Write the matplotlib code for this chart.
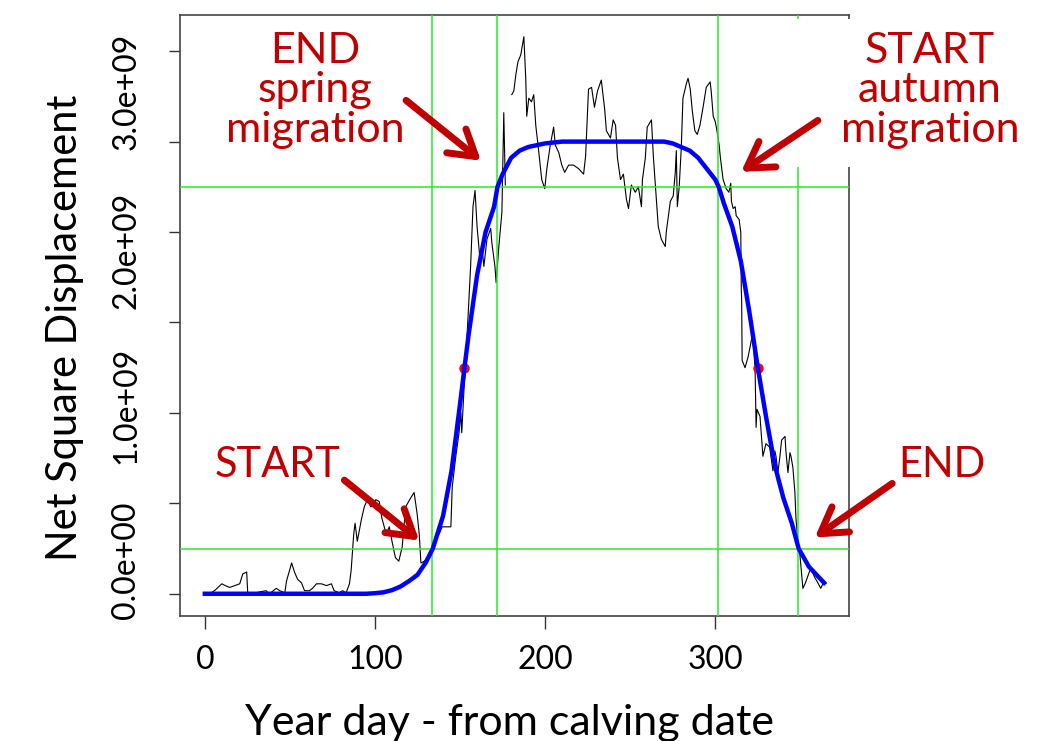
import matplotlib.pyplot as plt
import numpy as np
from matplotlib.patches import Rectangle

plt.rcParams["font.family"] = ["Lato", "DejaVu Sans"]

# observed NSD (units of 1e9), nan = gap in the record
obs_day = [0, 3, 6, 10, 12, 14.6, 17.6, 20.5, 22.3, 24.6, 25.2, 28, 32, 36, 38, 42, 44, 47,
           48, 49.8, 51, 52.7, 54.5, 56.8, 58.6, 61.5, 63.3, 65.6, 68.5, 71.5, 74.4, 76, 79,
           81, 83, 85, 86, 86.9, 87.5, 88.3, 89.6, 92, 93.7, 95.5, 97.6, 100.5, 102.5, 104,
           106.6, 108.4, 110, 112, 114, 116, 118, 121, 123, 124.8, 126, 127, 129, 130.6,
           133.6, 135.8, 137.7, 139.5, 141.6, 144.6, 145.4, 147.5, 149.4, 150.5, 151, 152.3,
           153.4, 154.2, 155.2, 156.2, 157.6, 158.8, 160, 161.7, 162.9, 164, 165.8, 168,
           168.7, 170.5, 171.2, 172.8, 174.6, 175.7, 176.6, 178,
           180.4, 181.6, 182.8, 184, 185.7, 187.5, 188.6, 189.2, 190.4, 192, 193.3, 194.5,
           196.3, 198, 199.8, 201, 203, 205, 206, 208, 209.8, 211.5, 213.8, 216.7, 219.7,
           222.6, 223.8, 225.5, 227.3, 229, 230.8, 233, 235, 236, 238.4, 240, 241.4, 242.5,
           244.3, 246, 247.8, 249, 250.7, 253, 254.8, 256.6, 257.2, 258.9, 260, 262.5, 263.6,
           264.8, 266.5, 268.3, 270.6, 271.2, 273.6, 275.3, 276.5, 277.1, 277.7, 278.8, 280,
           281, 283, 284, 285.3, 286.5, 288, 289.4, 291, 293, 294.7, 297, 297.6, 298.8, 300,
           301, 302.3, 302.9, 304.6, 306.4, 308, 309.1, 309.5, 310.5, 311.7, 312.3, 314, 315,
           315.3, 315.5, 315.8, 317.5, 319.3, 321, 322, 323.4, 324, 324.5, 326.3, 328, 329.8,
           332, 332.7, 333.9, 335, 335.7, 336.8, 338, 339, 341, 341.5, 342.7, 343.9, 344.5,
           345.6, 346.8, 347.4, 348.6, 349.7, 351.5, 353, 355.6, 356, 358.5, 360.3, 362, 364]
obs_nsd = [0, 0, 0.02, 0.055, 0.045, 0.035, 0.045, 0.055, 0.11, 0.12, 0.005, 0, 0.01, 0.017,
           0, 0.03, 0.017, 0.005, 0.07, 0.13, 0.17, 0.12, 0.08, 0.06, 0.017, 0.017, 0.03,
           0.055, 0.055, 0.045, 0.055, 0.017, 0.005, 0.017, 0.005, 0.055, 0.13, 0.25, 0.33,
           0.39, 0.29, 0.41, 0.48, 0.52, 0.48, 0.52, 0.51, 0.42, 0.33, 0.37, 0.29, 0.2, 0.18,
           0.26, 0.48, 0.53, 0.56, 0.44, 0.33, 0.17, 0.18, 0.2, 0.26, 0.31, 0.33, 0.37, 0.37,
           0.37, 0.59, 0.76, 0.89, 1.0, 0.89, 1.13, 1.26, 1.44, 1.63, 1.81, 2.14, 2.23, 2.03,
           1.85, 1.92, 1.81, 1.96, 2.02, 1.94, 1.81, 1.72, 1.92, 2.11, 2.66, 2.26, np.nan,
           2.76, 2.78, 2.87, 2.94, 2.98, 3.08, 2.85, 2.64, 2.74, 2.72, 2.76, 2.59, 2.44, 2.29,
           2.24, 2.35, 2.48, 2.58, 2.48, 2.44, 2.37, 2.33, 2.37, 2.37, 2.35, 2.32, 2.42, 2.79,
           2.8, 2.69, 2.78, 2.84, 2.68, 2.56, 2.52, 2.62, 2.59, 2.41, 2.29, 2.32, 2.18, 2.13,
           2.26, 2.22, 2.25, 2.14, 2.29, 2.41, 2.58, 2.62, 2.42, 2.26, 2.03, 1.96, 1.92, 2.0,
           2.17, 2.2, 2.33, 2.45, 2.14, 2.25, 2.46, 2.74, 2.82, 2.85, 2.79, 2.67, 2.56, 2.54,
           2.59, 2.7, 2.8, 2.83, 2.78, 2.64, 2.61, 2.56, 2.48, 2.42, 2.29, 2.24, 2.22, 2.27,
           2.17, 2.13, 2.14, 2.09, 2.07, 2.0, 1.68, 1.63, 1.29, 1.25, 1.31, 1.39, 1.44, 1.24,
           0.92, 1.02, 0.98, 0.76, 0.83, 0.81, 0.76, 0.68, 0.79, 0.76, 0.67, 0.76, 0.85, 0.87,
           0.79, 0.67, 0.78, 0.76, 0.7, 0.56, 0.42, 0.29, 0.22, 0.03, 0.06, 0.13, 0.14, 0.09,
           0.06, 0.03, 0.07]

# fitted double-sigmoid curve (units of 1e9)
fit_day = [0, 50, 95, 100, 105, 110, 115, 120, 125, 130, 134, 140, 145, 150, 153, 155, 160,
           165, 170, 172, 175, 180, 185, 190, 200, 210, 240, 270, 275, 280, 285, 290, 295,
           300, 302, 305, 310, 315, 320, 325, 330, 335, 340, 345, 349, 355, 360, 364]
fit_nsd = [0, 0, 0, 0.003, 0.008, 0.02, 0.04, 0.07, 0.105, 0.175, 0.25, 0.43, 0.68, 1.05,
           1.28, 1.43, 1.76, 2.0, 2.14, 2.25, 2.32, 2.41, 2.45, 2.47, 2.49, 2.5, 2.5, 2.5,
           2.49, 2.47, 2.45, 2.41, 2.35, 2.29, 2.25, 2.16, 2.03, 1.84, 1.56, 1.25, 0.97,
           0.71, 0.53, 0.39, 0.25, 0.15, 0.10, 0.06]

cut_day = [133.6, 171.6, 301.7, 348.6]   # start/end of the two migrations
cut_nsd = [0.25, 2.25]                   # 10% and 90% of the plateau
mid_day = [152.5, 325.0]
mid_nsd = [1.25, 1.25]

xticks = [0, 100, 200, 300]
ytick_marks = [0, 0.5, 1.0, 1.5, 2.0, 2.5, 3.0]
ylab_pos = [0.183, 1.044, 1.90, 2.78]
ylab_text = ["0.0e+00", "1.0e+09", "2.0e+09", "3.0e+09"]

RED = "#C00000"


def main():
    fig = plt.figure(figsize=(10.45, 7.41), dpi=100)
    ax = fig.add_axes([180 / 1045, 125 / 741, 669 / 1045, 601 / 741])

    ax.plot(obs_day, np.array(obs_nsd) * 1e9, color="black", lw=0.8, zorder=2)
    for d in cut_day:
        ax.axvline(d, color="#22EE22", lw=1.1, zorder=3)
    for v in cut_nsd:
        ax.axhline(v * 1e9, color="#22EE22", lw=1.1, zorder=3)
    ax.plot(mid_day, np.array(mid_nsd) * 1e9, "o", color="red", ms=6.5, zorder=4)
    ax.plot(fit_day, np.array(fit_nsd) * 1e9, color="#0000FF", lw=3.2, zorder=5)

    ax.set_xlim(-14.6, 378.6)
    ax.set_ylim(-0.123e9, 3.2e9)

    ax.set_xticks(xticks)
    ax.set_xticklabels([str(t) for t in xticks], fontsize=23)
    ax.tick_params(axis="x", length=9, width=1, pad=12, color="#333333")

    ax.set_yticks([v * 1e9 for v in ylab_pos])
    ax.set_yticklabels(ylab_text, rotation=90, va="center", fontsize=23)
    ax.set_yticks([v * 1e9 for v in ytick_marks], minor=True)
    ax.tick_params(axis="y", which="major", length=0, pad=28)
    ax.tick_params(axis="y", which="minor", length=8, width=1, color="#333333")

    for s in ax.spines.values():
        s.set_color("#444444")
        s.set_linewidth(1.2)

    ax.set_xlabel("Year day - from calving date", fontsize=31)
    ax.set_ylabel("Net Square Displacement", fontsize=30)
    ax.xaxis.set_label_coords(0.493, -0.198)
    ax.xaxis.label.set_va("baseline")
    ax.yaxis.set_label_coords(-0.172, 0.48)
    ax.yaxis.label.set_va("center")

    # white box behind the autumn label, hides the top of the last green line
    ax.add_patch(Rectangle((791 / 1045, 574 / 741), 1 - 791 / 1045, 148 / 741,
                           transform=fig.transFigure, facecolor="white",
                           edgecolor="none", zorder=8, clip_on=False))

    txt = dict(color=RED, fontsize=31, ha="center", va="baseline", linespacing=1.05,
               zorder=11)
    fig.text(315 / 1045, 599 / 741, "END\nspring\nmigration", **txt)
    fig.text(930 / 1045, 599 / 741, "START\nautumn\nmigration", **txt)
    txt["fontsize"] = 30
    fig.text(278 / 1045, 264 / 741, "START", **txt)
    fig.text(942 / 1045, 264 / 741, "END", **txt)

    arrow = dict(arrowstyle="->,head_length=0.9,head_width=0.55", color=RED, lw=5,
                 mutation_scale=20, shrinkA=0, shrinkB=0)
    ax.annotate("", xy=(162.3, 2.394e9), xytext=(118.3, 2.728e9), arrowprops=arrow,
                annotation_clip=False, zorder=12)
    ax.annotate("", xy=(315.2, 2.333e9), xytext=(360.3, 2.617e9), arrowprops=arrow,
                annotation_clip=False, zorder=12)
    ax.annotate("", xy=(126.0, 0.294e9), xytext=(82.0, 0.628e9), arrowprops=arrow,
                annotation_clip=False, zorder=12)
    ax.annotate("", xy=(358.5, 0.311e9), xytext=(404.0, 0.61e9), arrowprops=arrow,
                annotation_clip=False, zorder=12)

    plt.savefig("out.png", dpi=100)


if __name__ == "__main__":
    main()
